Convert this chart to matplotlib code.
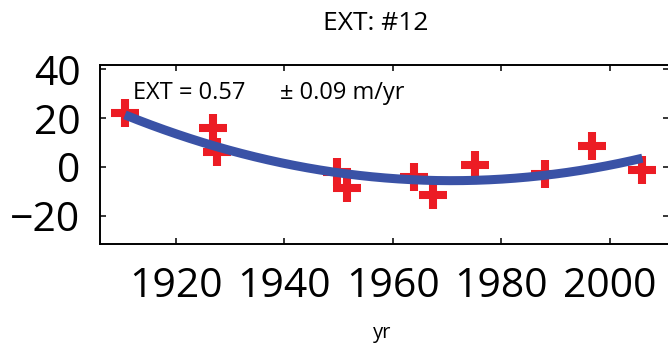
import numpy as np
import matplotlib
matplotlib.use("Agg")
import matplotlib.pyplot as plt

# ---- data ----
years = [1910.6, 1926.9, 1927.6, 1949.7, 1951.6, 1963.8, 1967.3, 1975.1, 1988.1, 1996.7, 2006.0]
values = [22.1, 16.1, 6.3, -2.0, -8.3, -4.0, -11.3, 0.8, -2.7, 8.6, -1.0]

# quadratic trend curve: read start, lowest point and end
fit_years = [1910.6, 1970.8, 2006.0]
fit_values = [21.4, -5.5, 3.7]

xticks = [1920, 1940, 1960, 1980, 2000]
yticks = [-20, 0, 20, 40]
title = "EXT: #12"
note_left = "EXT = 0.57"
note_right = "\u00b1 0.09 m/yr"
xlabel = "yr"

plt.rcParams['font.family'] = ['Open Sans', 'DejaVu Sans']
plt.rcParams['axes.unicode_minus'] = True

W, H = 668, 350
fig = plt.figure(figsize=(W / 100, H / 100), dpi=100)
ax_l, ax_r, ax_t, ax_b = 100, 669, 65, 244
ax = fig.add_axes([ax_l / W, (H - ax_b) / H, (ax_r - ax_l) / W, (ax_b - ax_t) / H])

coef = np.polyfit(fit_years, fit_values, 2)
xs = np.linspace(fit_years[0], fit_years[-1], 200)
ax.plot(xs, np.polyval(coef, xs), color='#3a52a6', lw=6.5, solid_capstyle='butt', zorder=3)
ax.plot(years, values, linestyle='none', marker='+', ms=19.5, mew=5.8,
        color='#ec1c24', zorder=2)

ax.set_xlim(1906.0, 2010.9)
ax.set_ylim(-31.4, 41.8)
ax.set_xticks(xticks)
ax.set_yticks(yticks)
ax.tick_params(direction='in', top=True, right=True, length=4.5, width=1.1,
               labelsize=29.5, colors='black')
ax.tick_params(axis='x', pad=16)
ax.tick_params(axis='y', pad=14)
for s in ax.spines.values():
    s.set_linewidth(1.4)

ax.set_xlabel(xlabel, fontsize=14.5)
ax.xaxis.set_label_coords((382.5 - ax_l) / (ax_r - ax_l), -0.443)

fig.text(375.8 / W, (H - 30) / H, title, ha='center', va='baseline', fontsize=19)
fig.text(132.7 / W, (H - 99.3) / H, note_left, ha='left', va='baseline', fontsize=17)
fig.text(280 / W, (H - 99.3) / H, note_right, ha='left', va='baseline', fontsize=17)

fig.savefig("out.png", dpi=100)
